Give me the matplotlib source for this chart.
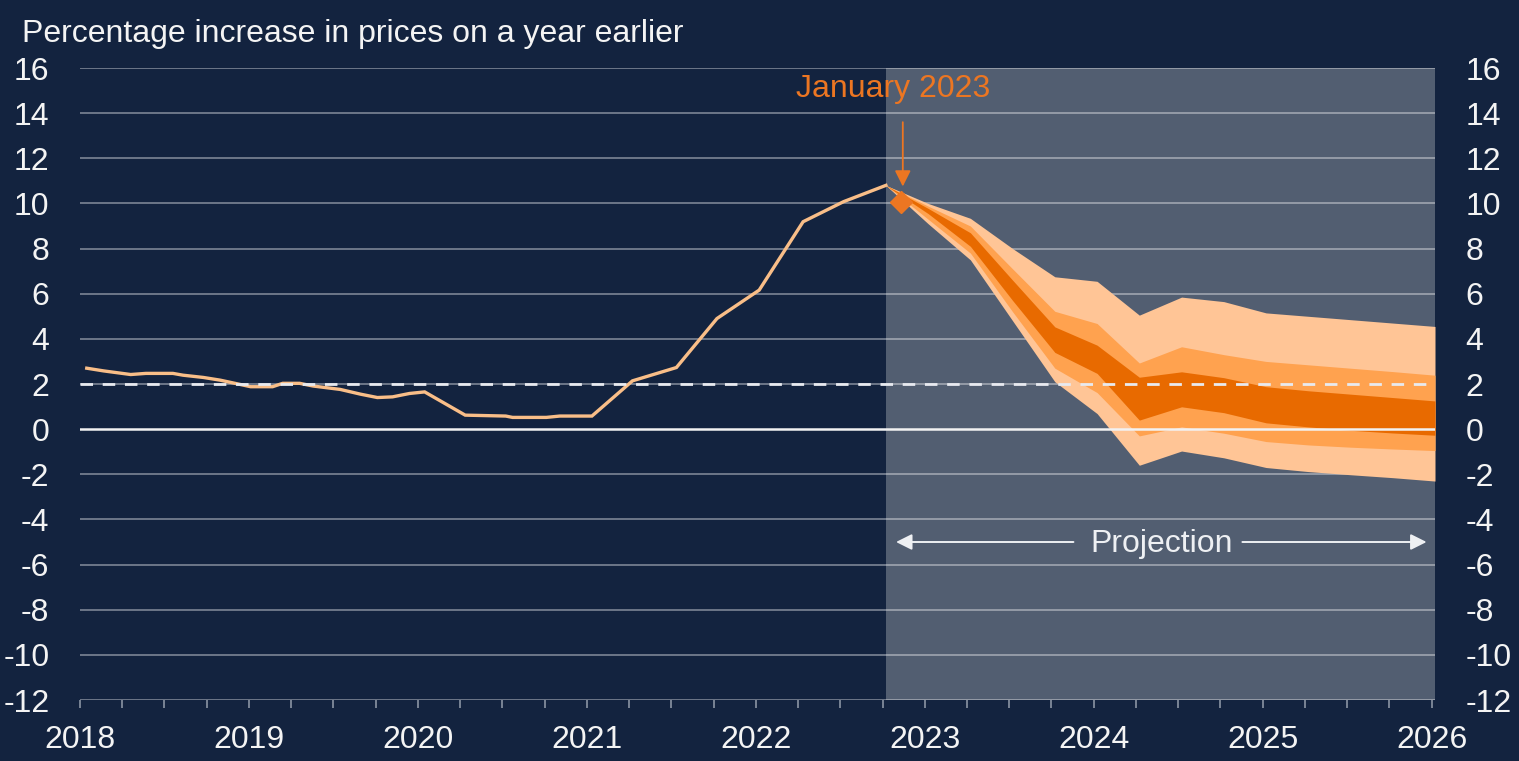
import matplotlib
matplotlib.use("Agg")
import matplotlib.pyplot as plt
from matplotlib.ticker import MultipleLocator, FixedLocator

plt.rcParams['font.family'] = ['Liberation Sans', 'DejaVu Sans']
plt.rcParams['axes.unicode_minus'] = False

# ---- data ----
title = "Percentage increase in prices on a year earlier"
hist_dates = [2018.04, 2018.14, 2018.30, 2018.39, 2018.55, 2018.61, 2018.73, 2018.83,
              2019.01, 2019.14, 2019.20, 2019.30, 2019.38, 2019.54, 2019.66, 2019.76,
              2019.85, 2019.95, 2020.04, 2020.28, 2020.52, 2020.56, 2020.76, 2020.84,
              2021.03, 2021.27, 2021.53, 2021.77, 2022.02, 2022.28, 2022.52, 2022.77]
hist_values = [2.7, 2.58, 2.42, 2.47, 2.47, 2.39, 2.29, 2.17,
               1.88, 1.88, 2.03, 2.03, 1.91, 1.76, 1.55, 1.40,
               1.43, 1.58, 1.65, 0.62, 0.58, 0.52, 0.52, 0.58,
               0.58, 2.14, 2.73, 4.90, 6.16, 9.19, 10.08, 10.8]

fan_dates = [2022.77, 2023.02, 2023.27, 2023.52, 2023.77, 2024.02, 2024.27,
             2024.52, 2024.77, 2025.02, 2025.27, 2025.52, 2025.77, 2026.02]
outer_upper = [10.8, 10.0, 9.34, 8.0, 6.75, 6.55, 5.05, 5.85, 5.65, 5.15, 5.0, 4.85, 4.7, 4.55]
mid_upper   = [10.8, 9.88, 9.0, 7.1, 5.22, 4.68, 2.93, 3.65, 3.3, 3.0, 2.85, 2.7, 2.55, 2.39]
dark_upper  = [10.8, 9.78, 8.7, 6.6, 4.53, 3.72, 2.3, 2.54, 2.28, 1.88, 1.7, 1.55, 1.4, 1.25]
dark_lower  = [10.8, 9.55, 8.1, 5.7, 3.4, 2.47, 0.4, 0.99, 0.73, 0.28, 0.1, -0.05, -0.17, -0.27]
mid_lower   = [10.8, 9.3, 7.8, 5.2, 2.7, 1.62, -0.3, 0.1, -0.18, -0.55, -0.7, -0.8, -0.88, -0.95]
outer_lower = [10.8, 9.1, 7.5, 4.8, 2.1, 0.69, -1.6, -0.97, -1.27, -1.7, -1.88, -2.02, -2.15, -2.3]

jan2023_date = 2022.86
jan2023_value = 10.08
target = 2.0
projection_start = 2022.77
projection_end = 2026.02
year_labels = [2018, 2019, 2020, 2021, 2022, 2023, 2024, 2025, 2026]
y_ticks = [-12, -10, -8, -6, -4, -2, 0, 2, 4, 6, 8, 10, 12, 14, 16]

# ---- colours ----
navy = '#13233F'
shade = '#525E71'
light = '#FFC596'
medium = '#FFA24F'
dark = '#E86A00'
hist_col = '#F9BE88'
orange = '#EC7622'
txt = '#F4F4F4'
FS = 23

fig = plt.figure(figsize=(15.19, 7.61), dpi=100, facecolor=navy)
ax = fig.add_axes([80/1519, 61/761, (1435-80)/1519, (700-68)/761])
ax.set_facecolor(navy)
for s in ax.spines.values():
    s.set_visible(False)

ax.set_xlim(2018, 2026.02)
ax.set_ylim(-12, 16)

ax.axvspan(projection_start, projection_end, color=shade, zorder=0, lw=0)

for yv in y_ticks:
    if yv == 0:
        continue
    ax.axhline(yv, color='white', alpha=0.38, lw=1.4, zorder=1)

ax.fill_between(fan_dates, outer_lower, outer_upper, color=light, lw=0, zorder=2)
ax.fill_between(fan_dates, mid_lower, mid_upper, color=medium, lw=0, zorder=2.1)
ax.fill_between(fan_dates, dark_lower, dark_upper, color=dark, lw=0, zorder=2.2)

ax.plot(hist_dates, hist_values, color=hist_col, lw=2.4, zorder=3, solid_joinstyle='miter')

ax.axhline(0, color='#F2F2F2', lw=1.8, zorder=4)
ax.axhline(target, color='#E8EAF0', lw=2.0, dashes=(4.5, 3.5), zorder=4)

ax.plot([jan2023_date], [jan2023_value], marker='D', ms=11, color=orange, mec=orange, zorder=5)
ax.annotate('', xy=(jan2023_date + 0.01, 10.75), xytext=(jan2023_date + 0.01, 13.6),
            arrowprops=dict(arrowstyle='-|>', color=orange, lw=1.3, mutation_scale=24,
                            shrinkA=0, shrinkB=0), zorder=6)
ax.text(2022.81, 15.05, 'January 2023', color=orange, fontsize=FS, ha='center', va='center', zorder=6)

# Projection arrows
arrow_col = '#EEF0F3'
ax.annotate('', xy=(2022.83, -5.0), xytext=(2023.88, -5.0),
            arrowprops=dict(arrowstyle='-|>', color=arrow_col, lw=1.4, mutation_scale=24,
                            shrinkA=0, shrinkB=0), zorder=6)
ax.annotate('', xy=(2025.97, -5.0), xytext=(2024.88, -5.0),
            arrowprops=dict(arrowstyle='-|>', color=arrow_col, lw=1.4, mutation_scale=24,
                            shrinkA=0, shrinkB=0), zorder=6)
ax.text(2024.40, -5.1, 'Projection', color=arrow_col, fontsize=FS, ha='center', va='center', zorder=6)

# ticks
ax.set_yticks(y_ticks)
ax.set_yticklabels([str(v) for v in y_ticks])
ax.tick_params(axis='y', length=0, labelsize=FS, pad=22,
               labelleft=True, labelright=True, left=False, right=False)
ax.xaxis.set_major_locator(FixedLocator(year_labels))
ax.set_xticklabels([str(y) for y in year_labels])
ax.xaxis.set_minor_locator(MultipleLocator(0.25))
ax.tick_params(axis='x', which='both', length=6, width=1.2, color='#8A94A3', direction='out',
               labelsize=FS, pad=12)
for lab in ax.get_yticklabels() + ax.get_xticklabels():
    lab.set_color(txt)
for lab in ax.yaxis.get_ticklabels(which='major'):
    lab.set_color(txt)
ax.tick_params(axis='y', labelcolor=txt)
ax.tick_params(axis='x', labelcolor=txt)

fig.text(22/1519, 1 - 34/761, title, color=txt, fontsize=FS, ha='left', va='center')

fig.savefig('out.png', dpi=100, facecolor=navy)
